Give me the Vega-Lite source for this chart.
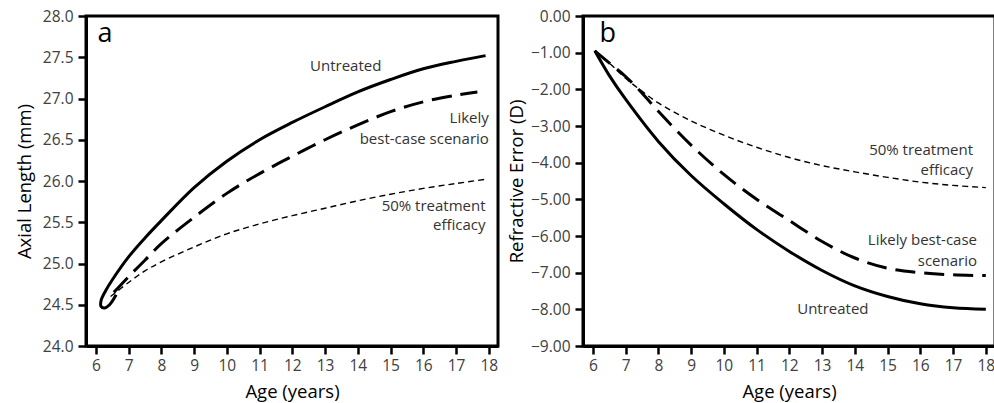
{
  "$schema": "https://vega.github.io/schema/vega-lite/v6.json",
  "background": "white",
  "padding": {"left": 13, "top": 7, "right": 0, "bottom": 0},
  "spacing": 5,
  "config": {
    "font": "Open Sans",
    "view": {"stroke": "black", "strokeWidth": 3},
    "axis": {
      "grid": false,
      "domainColor": "black",
      "domainWidth": 3,
      "tickColor": "black",
      "tickWidth": 2.5,
      "tickSize": 8,
      "labelColor": "#404040",
      "labelFontSize": 15.5,
      "labelFont": "Open Sans",
      "titleFont": "Open Sans",
      "titleFontSize": 18.5,
      "titleFontWeight": "normal",
      "titleColor": "black"
    }
  },
  "datasets": {
    "a": [
      {"series": "Untreated", "ord": 1, "age": 6.62, "value": 24.62},
      {"series": "Untreated", "ord": 2, "age": 6.42, "value": 24.5},
      {"series": "Untreated", "ord": 3, "age": 6.26, "value": 24.46},
      {"series": "Untreated", "ord": 4, "age": 6.16, "value": 24.48},
      {"series": "Untreated", "ord": 5, "age": 6.16, "value": 24.55},
      {"series": "Untreated", "ord": 6, "age": 6.3, "value": 24.67},
      {"series": "Untreated", "ord": 7, "age": 6.5, "value": 24.8},
      {"series": "Untreated", "ord": 8, "age": 7, "value": 25.08},
      {"series": "Untreated", "ord": 9, "age": 7.5, "value": 25.31},
      {"series": "Untreated", "ord": 10, "age": 8, "value": 25.52},
      {"series": "Untreated", "ord": 11, "age": 9, "value": 25.92},
      {"series": "Untreated", "ord": 12, "age": 10, "value": 26.24},
      {"series": "Untreated", "ord": 13, "age": 11, "value": 26.5},
      {"series": "Untreated", "ord": 14, "age": 12, "value": 26.71},
      {"series": "Untreated", "ord": 15, "age": 13, "value": 26.9},
      {"series": "Untreated", "ord": 16, "age": 14, "value": 27.08},
      {"series": "Untreated", "ord": 17, "age": 15, "value": 27.23},
      {"series": "Untreated", "ord": 18, "age": 16, "value": 27.36},
      {"series": "Untreated", "ord": 19, "age": 17, "value": 27.45},
      {"series": "Untreated", "ord": 20, "age": 17.9, "value": 27.52},
      {"series": "Likely", "ord": 1, "age": 6.55, "value": 24.65},
      {"series": "Likely", "ord": 2, "age": 7, "value": 24.84},
      {"series": "Likely", "ord": 3, "age": 7.5, "value": 25.04},
      {"series": "Likely", "ord": 4, "age": 8, "value": 25.24},
      {"series": "Likely", "ord": 5, "age": 9, "value": 25.56},
      {"series": "Likely", "ord": 6, "age": 10, "value": 25.85},
      {"series": "Likely", "ord": 7, "age": 11, "value": 26.09},
      {"series": "Likely", "ord": 8, "age": 12, "value": 26.3},
      {"series": "Likely", "ord": 9, "age": 13, "value": 26.5},
      {"series": "Likely", "ord": 10, "age": 14, "value": 26.68},
      {"series": "Likely", "ord": 11, "age": 15, "value": 26.84},
      {"series": "Likely", "ord": 12, "age": 16, "value": 26.96},
      {"series": "Likely", "ord": 13, "age": 17, "value": 27.04},
      {"series": "Likely", "ord": 14, "age": 17.65, "value": 27.08},
      {"series": "Half", "ord": 1, "age": 6.45, "value": 24.6},
      {"series": "Half", "ord": 2, "age": 7, "value": 24.77},
      {"series": "Half", "ord": 3, "age": 7.5, "value": 24.91},
      {"series": "Half", "ord": 4, "age": 8, "value": 25.02},
      {"series": "Half", "ord": 5, "age": 9, "value": 25.2},
      {"series": "Half", "ord": 6, "age": 10, "value": 25.36},
      {"series": "Half", "ord": 7, "age": 11, "value": 25.48},
      {"series": "Half", "ord": 8, "age": 12, "value": 25.58},
      {"series": "Half", "ord": 9, "age": 13, "value": 25.67},
      {"series": "Half", "ord": 10, "age": 14, "value": 25.76},
      {"series": "Half", "ord": 11, "age": 15, "value": 25.84},
      {"series": "Half", "ord": 12, "age": 16, "value": 25.91},
      {"series": "Half", "ord": 13, "age": 17, "value": 25.97},
      {"series": "Half", "ord": 14, "age": 17.9, "value": 26.02}
    ],
    "b": [
      {"series": "Untreated", "ord": 1, "age": 6.06, "value": -0.95},
      {"series": "Untreated", "ord": 2, "age": 6.5, "value": -1.62},
      {"series": "Untreated", "ord": 3, "age": 7, "value": -2.27},
      {"series": "Untreated", "ord": 4, "age": 8, "value": -3.42},
      {"series": "Untreated", "ord": 5, "age": 9, "value": -4.35},
      {"series": "Untreated", "ord": 6, "age": 10, "value": -5.12},
      {"series": "Untreated", "ord": 7, "age": 11, "value": -5.82},
      {"series": "Untreated", "ord": 8, "age": 12, "value": -6.42},
      {"series": "Untreated", "ord": 9, "age": 13, "value": -6.94},
      {"series": "Untreated", "ord": 10, "age": 14, "value": -7.36},
      {"series": "Untreated", "ord": 11, "age": 15, "value": -7.65},
      {"series": "Untreated", "ord": 12, "age": 16, "value": -7.85},
      {"series": "Untreated", "ord": 13, "age": 17, "value": -7.96},
      {"series": "Untreated", "ord": 14, "age": 18, "value": -8.0},
      {"series": "Likely", "ord": 1, "age": 6.06, "value": -0.95},
      {"series": "Likely", "ord": 2, "age": 6.5, "value": -1.28},
      {"series": "Likely", "ord": 3, "age": 7, "value": -1.65},
      {"series": "Likely", "ord": 4, "age": 7.5, "value": -2.1},
      {"series": "Likely", "ord": 5, "age": 8, "value": -2.6},
      {"series": "Likely", "ord": 6, "age": 9, "value": -3.52},
      {"series": "Likely", "ord": 7, "age": 10, "value": -4.32},
      {"series": "Likely", "ord": 8, "age": 11, "value": -5.0},
      {"series": "Likely", "ord": 9, "age": 12, "value": -5.58},
      {"series": "Likely", "ord": 10, "age": 13, "value": -6.15},
      {"series": "Likely", "ord": 11, "age": 14, "value": -6.6},
      {"series": "Likely", "ord": 12, "age": 15, "value": -6.88},
      {"series": "Likely", "ord": 13, "age": 16, "value": -7.0},
      {"series": "Likely", "ord": 14, "age": 17, "value": -7.06},
      {"series": "Likely", "ord": 15, "age": 18, "value": -7.08},
      {"series": "Half", "ord": 1, "age": 6.06, "value": -0.95},
      {"series": "Half", "ord": 2, "age": 6.5, "value": -1.28},
      {"series": "Half", "ord": 3, "age": 7, "value": -1.7},
      {"series": "Half", "ord": 4, "age": 7.5, "value": -2.05},
      {"series": "Half", "ord": 5, "age": 8, "value": -2.37},
      {"series": "Half", "ord": 6, "age": 9, "value": -2.86},
      {"series": "Half", "ord": 7, "age": 10, "value": -3.25},
      {"series": "Half", "ord": 8, "age": 11, "value": -3.58},
      {"series": "Half", "ord": 9, "age": 12, "value": -3.86},
      {"series": "Half", "ord": 10, "age": 13, "value": -4.08},
      {"series": "Half", "ord": 11, "age": 14, "value": -4.25},
      {"series": "Half", "ord": 12, "age": 15, "value": -4.4},
      {"series": "Half", "ord": 13, "age": 16, "value": -4.53},
      {"series": "Half", "ord": 14, "age": 17, "value": -4.62},
      {"series": "Half", "ord": 15, "age": 18, "value": -4.68}
    ],
    "alabels": [
      {"role": "letter", "text": "a", "age": 6.05, "value": 27.78},
      {"role": "center", "text": "Untreated", "age": 13.63, "value": 27.39},
      {"role": "right", "text": "Likely", "age": 18.0, "value": 26.76},
      {"role": "right", "text": "best-case scenario", "age": 18.0, "value": 26.51},
      {"role": "right", "text": "50% treatment", "age": 17.9, "value": 25.7},
      {"role": "right", "text": "efficacy", "age": 17.9, "value": 25.47}
    ],
    "blabels": [
      {"role": "letter", "text": "b", "age": 6.2, "value": -0.49},
      {"role": "center", "text": "Untreated", "age": 13.33, "value": -7.99},
      {"role": "right", "text": "Likely best-case", "age": 17.73, "value": -6.11},
      {"role": "right", "text": "scenario", "age": 17.73, "value": -6.68},
      {"role": "right", "text": "50% treatment", "age": 17.61, "value": -3.65},
      {"role": "right", "text": "efficacy", "age": 17.61, "value": -4.2}
    ]
  },
  "hconcat": [
    {
      "width": 412,
      "height": 330,
      "encoding": {
        "x": {"field": "age", "type": "quantitative", "scale": {"domain": [5.7, 18.28], "nice": false, "zero": false}, "axis": {"title": "Age (years)", "values": [6,7,8,9,10,11,12,13,14,15,16,17,18], "labelPadding": 4, "titlePadding": 9}},
        "y": {"field": "value", "type": "quantitative", "scale": {"domain": [24, 28], "nice": false, "zero": false}, "axis": {"title": "Axial Length (mm)", "values": [24,24.5,25,25.5,26,26.5,27,27.5,28], "format": ".1f", "labelPadding": 5, "titlePadding": 8}}
      },
      "layer": [
        {"data": {"name": "a"}, "transform": [{"filter": "datum.series === 'Untreated'"}], "mark": {"type": "line", "color": "black", "strokeWidth": 3, "interpolate": "catmull-rom"}, "encoding": {"order": {"field": "ord", "type": "quantitative"}}},
        {"data": {"name": "a"}, "transform": [{"filter": "datum.series === 'Likely'"}], "mark": {"type": "line", "color": "black", "strokeWidth": 3, "strokeDash": [20, 9], "interpolate": "catmull-rom"}, "encoding": {"order": {"field": "ord", "type": "quantitative"}}},
        {"data": {"name": "a"}, "transform": [{"filter": "datum.series === 'Half'"}], "mark": {"type": "line", "color": "black", "strokeWidth": 1.4, "strokeDash": [6, 4], "interpolate": "catmull-rom"}, "encoding": {"order": {"field": "ord", "type": "quantitative"}}},
        {"data": {"name": "alabels"}, "transform": [{"filter": "datum.role === 'letter'"}], "mark": {"type": "text", "align": "left", "baseline": "middle", "fontSize": 27, "color": "black"}, "encoding": {"text": {"field": "text"}}},
        {"data": {"name": "alabels"}, "transform": [{"filter": "datum.role === 'center'"}], "mark": {"type": "text", "align": "center", "baseline": "middle", "fontSize": 15, "color": "#333333"}, "encoding": {"text": {"field": "text"}}},
        {"data": {"name": "alabels"}, "transform": [{"filter": "datum.role === 'right'"}], "mark": {"type": "text", "align": "right", "baseline": "middle", "fontSize": 15, "color": "#333333"}, "encoding": {"text": {"field": "text"}}}
      ]
    },
    {
      "width": 412,
      "height": 330,
      "encoding": {
        "x": {"field": "age", "type": "quantitative", "scale": {"domain": [5.7, 18.28], "nice": false, "zero": false}, "axis": {"title": "Age (years)", "values": [6,7,8,9,10,11,12,13,14,15,16,17,18], "labelPadding": 4, "titlePadding": 9}},
        "y": {"field": "value", "type": "quantitative", "scale": {"domain": [-9, 0], "nice": false, "zero": false}, "axis": {"title": "Refractive Error (D)", "values": [-9,-8,-7,-6,-5,-4,-3,-2,-1,0], "format": ".2f", "labelPadding": 5, "titlePadding": 4}}
      },
      "layer": [
        {"data": {"name": "b"}, "transform": [{"filter": "datum.series === 'Untreated'"}], "mark": {"type": "line", "color": "black", "strokeWidth": 3, "interpolate": "catmull-rom"}, "encoding": {"order": {"field": "ord", "type": "quantitative"}}},
        {"data": {"name": "b"}, "transform": [{"filter": "datum.series === 'Likely'"}], "mark": {"type": "line", "color": "black", "strokeWidth": 3, "strokeDash": [20, 9], "interpolate": "catmull-rom"}, "encoding": {"order": {"field": "ord", "type": "quantitative"}}},
        {"data": {"name": "b"}, "transform": [{"filter": "datum.series === 'Half'"}], "mark": {"type": "line", "color": "black", "strokeWidth": 1.4, "strokeDash": [6, 4], "interpolate": "catmull-rom"}, "encoding": {"order": {"field": "ord", "type": "quantitative"}}},
        {"data": {"name": "blabels"}, "transform": [{"filter": "datum.role === 'letter'"}], "mark": {"type": "text", "align": "left", "baseline": "middle", "fontSize": 27, "color": "black"}, "encoding": {"text": {"field": "text"}}},
        {"data": {"name": "blabels"}, "transform": [{"filter": "datum.role === 'center'"}], "mark": {"type": "text", "align": "center", "baseline": "middle", "fontSize": 15, "color": "#333333"}, "encoding": {"text": {"field": "text"}}},
        {"data": {"name": "blabels"}, "transform": [{"filter": "datum.role === 'right'"}], "mark": {"type": "text", "align": "right", "baseline": "middle", "fontSize": 15, "color": "#333333"}, "encoding": {"text": {"field": "text"}}}
      ]
    }
  ]
}
